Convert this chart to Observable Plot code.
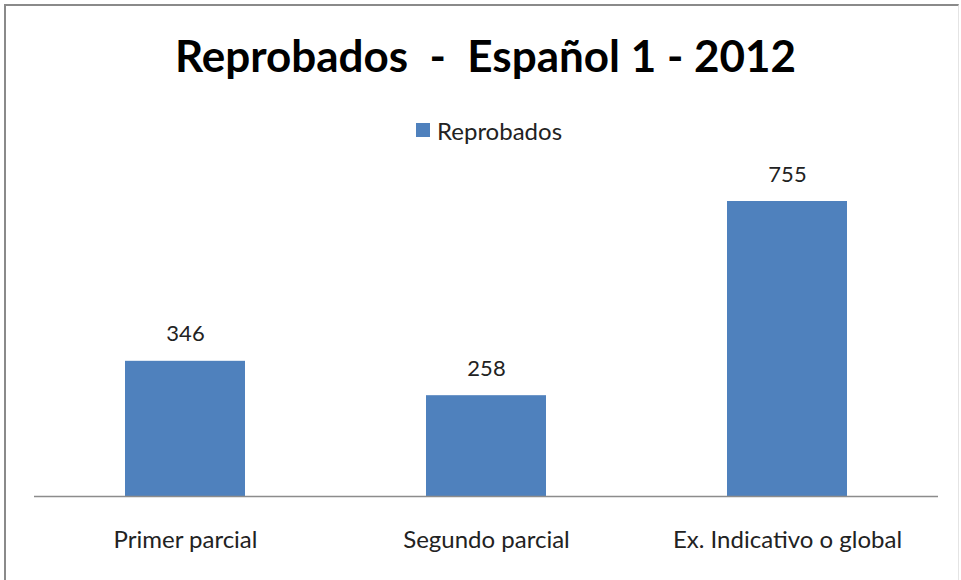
<!DOCTYPE html>
<html>
<head>
<meta charset="utf-8">
<script src="https://cdn.jsdelivr.net/npm/d3@7"></script>
<script src="https://cdn.jsdelivr.net/npm/@observablehq/plot@0.6"></script>
<style>
  html, body { margin: 0; padding: 0; background: #fff; }
  #frame { position: relative; width: 961px; height: 580px; overflow: hidden; font-family: Lato, "Open Sans", sans-serif; }
  #border { position: absolute; left: 4px; top: 4px; width: 952px; height: 600px; border-left: 2px solid #8a8a8a; border-top: 2px solid #8a8a8a; border-right: 1px solid #e4e4e4; }
  #title { position: absolute; left: 0; width: 971px; top: 29px; text-align: center; font-size: 44px; font-weight: bold; color: #000; white-space: pre; }
  #legend { position: absolute; left: 416px; top: 115px; height: 30px; display: flex; align-items: center; font-size: 24px; color: #222; }
  #legend .sw { width: 14px; height: 14px; background: #4f81bd; margin-right: 7px; }
  #chart { position: absolute; left: 0; top: 150px; }
</style>
</head>
<body>
<div id="frame">
  <div id="border"></div>
  <div id="title"></div>
  <div id="legend"><div class="sw"></div><span id="legtext"></span></div>
  <div id="chart"></div>
</div>
<script>
const titleText = "Reprobados  -  Español 1 - 2012";
const seriesName = "Reprobados";
const categories = ["Primer parcial", "Segundo parcial", "Ex. Indicativo o global"];
const values = [346, 258, 755];

document.getElementById("title").textContent = titleText;
document.getElementById("legtext").textContent = seriesName;

const data = categories.map((c, i) => ({category: c, value: values[i]}));

const plot = Plot.plot({
  width: 961,
  height: 430,
  marginLeft: 34,
  marginRight: 23,
  marginTop: 51,
  marginBottom: 84,
  style: {fontFamily: "Lato, 'Open Sans', sans-serif", fontSize: "24px", color: "#222", background: "transparent"},
  x: {domain: categories, paddingInner: 0.6, paddingOuter: 0.3, label: null, axis: null},
  y: {domain: [0, 755], axis: null},
  marks: [
    Plot.barY(data, {x: "category", y: "value", fill: "#4f81bd"}),
    Plot.ruleY([0], {stroke: "#8c8c8c", strokeWidth: 1.5}),
    Plot.text(data, {x: "category", y: "value", text: d => String(d.value), dy: -27, fontSize: 22, fill: "#222"}),
    Plot.axisX({tickSize: 0, tickPadding: 34, fontSize: 24, fill: "#222", label: null})
  ]
});
document.getElementById("chart").appendChild(plot);
</script>
</body>
</html>
